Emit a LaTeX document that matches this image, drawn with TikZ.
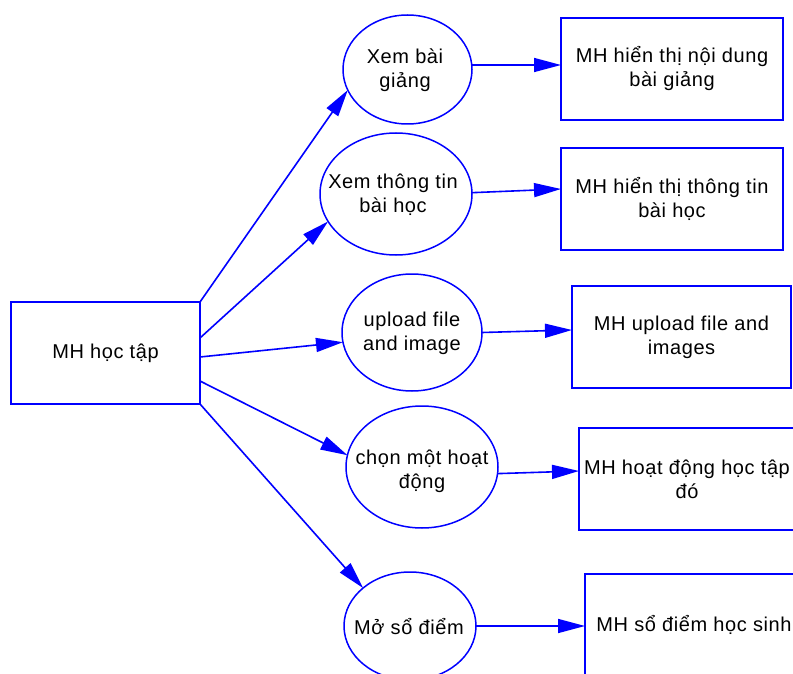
\documentclass[tikz,border=0pt]{standalone}
\usepackage{fontspec}
\setmainfont{Liberation Sans}[LetterSpace=3]
\usetikzlibrary{arrows.meta,shapes.geometric}
\definecolor{lineblue}{RGB}{0,0,255}
\begin{document}
\begin{tikzpicture}[x=1pt,y=-1pt,
  every node/.style={inner sep=0pt, outer sep=0pt, text=black,
    font=\fontsize{20}{24}\selectfont},
  screen/.style={draw=lineblue, line width=2pt, rectangle,
    minimum width=222pt, minimum height=102pt, align=center},
  usecase/.style={draw=lineblue, line width=1.5pt, ellipse},
  caption/.style={align=center},
  flow/.style={draw=lineblue, line width=1.6pt,
    -{Triangle[length=27pt,width=14pt]}}]

\path[use as bounding box] (0,0) rectangle (793,674);
\clip (0,0) rectangle (793,674);

% main screen
\node[screen, minimum width=189pt] (L) at (105.5,353) {MH học tập};

% actions
\node[usecase, minimum width=129pt, minimum height=109pt] (E1) at (407.5,69.5) {};
\node[usecase, minimum width=152pt, minimum height=122pt] (E2) at (396,194) {};
\node[usecase, minimum width=140pt, minimum height=117pt] (E3) at (412,332.5) {};
\node[usecase, minimum width=152pt, minimum height=122pt] (E4) at (422,467) {};
\node[usecase, minimum width=132pt, minimum height=108pt] (E5) at (410,626) {};

\node[caption] (E1t) at (405,70) {Xem bài\\giảng};
\node[caption] (E2t) at (393,195) {Xem thông tin\\bài học};
\node[caption] (E3t) at (412,333) {upload file\\and image};
\node[caption] (E4t) at (422,471) {chọn một hoạt\\động};
\node[caption] (E5t) at (409,627) {Mở sổ điểm};

% result screens
\node[screen] (B1) at (672,69) {MH hiển thị nội dung\\bài giảng};
\node[screen] (B2) at (672,199) {MH hiển thị thông tin\\bài học};
\node[screen, minimum width=219pt] (B3) at (681.5,337) {MH upload file and\\images};
\node[screen] (B4) at (690,479) {MH hoạt động học tập\hspace*{6pt}\\đó\hspace*{6pt}};
\node[screen] (B5) at (696,625) {MH sổ điểm học sinh\hspace*{4pt}};

% main screen to actions
\draw[flow] (L.north east) -- (E1.199);
\draw[flow] ([yshift=15pt]L.east) -- (E2.202);
\draw[flow] ([yshift=-4pt]L.east) -- (E3.188);
\draw[flow] ([yshift=-28pt]L.east) -- (E4.171);
\draw[flow] (L.south east) -- (E5.141);

% actions to result screens
\draw[flow] (E1.4) -- (E1.4 -| B1.west);
\draw[flow] (E2.1) -- ([yshift=10pt]B2.west);
\draw[flow] (E3.east) -- ([yshift=7pt]B3.west);
\draw[flow] (E4.-5) -- ([yshift=8pt]B4.west);
\draw[flow] (E5.east) -- (E5.east -| B5.west);
\end{tikzpicture}
\end{document}
